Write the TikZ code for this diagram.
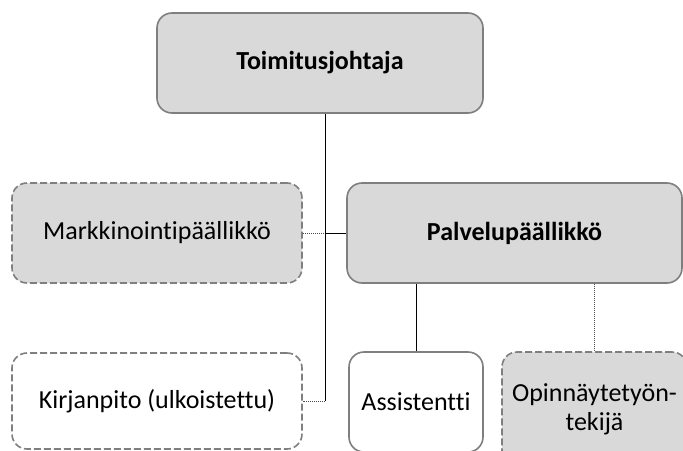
\documentclass[tikz,border=0pt]{standalone}
\usepackage{fontspec}
\setmainfont{Carlito}[Ligatures={NoCommon,NoContextual}]
\definecolor{boxfill}{HTML}{D9D9D9}
\definecolor{boxline}{HTML}{7F7F7F}
\tikzset{
  orgbox/.style={draw=boxline, line width=1.6pt, rounded corners=15pt, inner sep=0pt, align=center, font=\fontsize{26}{29}\selectfont},
  grayfill/.style={fill=boxfill},
  dashbox/.style={dash pattern=on 7pt off 3pt},
  conn/.style={draw=black, line width=1pt},
  dotconn/.style={draw=black!70, line width=0.9pt, dash pattern=on 1pt off 1pt},
}
\begin{document}
\begin{tikzpicture}[x=1pt,y=-1pt]
\useasboundingbox (0,0) rectangle (683,450);
\clip (0,0) rectangle (683,450);
\node[orgbox, grayfill, minimum width=326pt, minimum height=100pt, font=\fontsize{26}{29}\selectfont\bfseries] (top) at (320,63) {Toimitusjohtaja};
\node[orgbox, grayfill, dashbox, minimum width=290pt, minimum height=100pt] (mk) at (157,233) {Markkinointipäällikkö};
\node[orgbox, grayfill, minimum width=335pt, minimum height=100pt, font=\fontsize{26}{29}\selectfont\bfseries] (pal) at (514.5,233) {Palvelupäällikkö};
\node[orgbox, dashbox, minimum width=290pt, minimum height=96pt] (kir) at (157,401) {Kirjanpito (ulkoistettu)};
\node[orgbox, minimum width=134pt, minimum height=100pt] (ass) at (416,402) {Assistentti};
\node[orgbox, grayfill, dashbox, minimum width=185pt, minimum height=114pt] (opi) at (594.5,409) {Opinnäytetyön-\\tekijä};
\draw[conn] ([xshift=5pt]top.south) coordinate (t0) -- (t0 |- kir.east) coordinate (k0);
\draw[dotconn] (k0) -- (kir.east);
\draw[dotconn] (mk.east) -- (mk.east -| t0) coordinate (m0);
\draw[conn] (m0) -- (pal.west);
\draw[conn] (pal.south -| ass.north) -- (ass.north);
\draw[dotconn] (pal.south -| opi.north) -- (opi.north);
\end{tikzpicture}
\end{document}
